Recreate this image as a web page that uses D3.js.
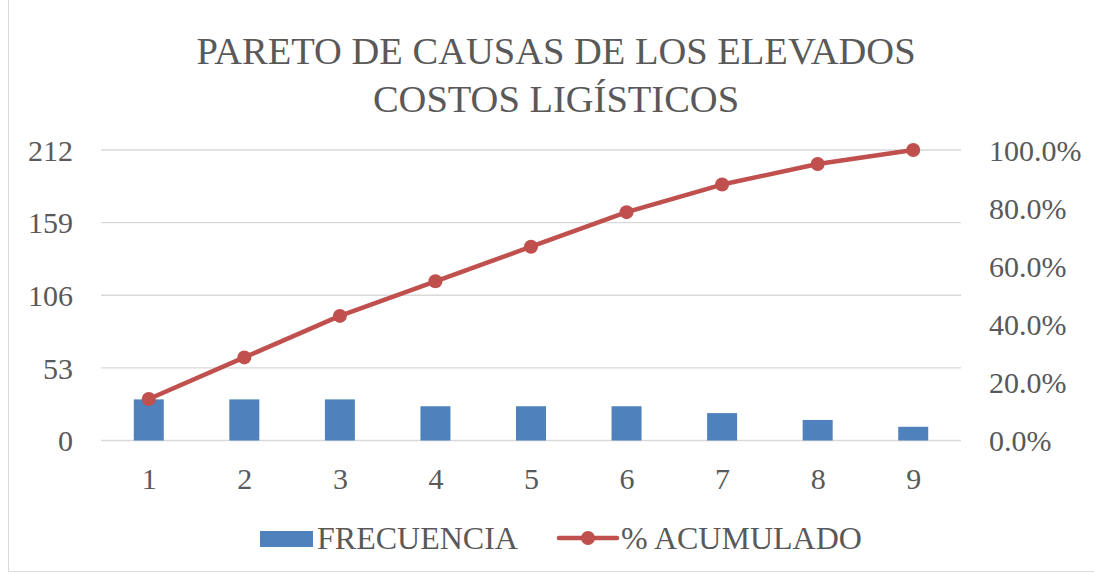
<!DOCTYPE html>
<html><head><meta charset="utf-8">
<script src="https://cdn.jsdelivr.net/npm/d3@7/dist/d3.min.js"></script>
<style>body{margin:0;background:#fff}svg{display:block}text{font-family:"Liberation Serif","Times New Roman",serif;fill:#595959}</style>
</head><body><svg id="c" width="1094" height="574"></svg>
<script>
const categories = ["1","2","3","4","5","6","7","8","9"];
const frecuencia = [30,30,30,25,25,25,20,15,10];
const acumulado = [14.3,28.6,42.9,54.8,66.7,78.6,88.1,95.2,100.0];
const leftTicks = [0,53,106,159,212];
const rightTicks = [0,20,40,60,80,100];
const titleLines = ["PARETO DE CAUSAS DE LOS ELEVADOS","COSTOS LIGÍSTICOS"];
const seriesNames = ["FRECUENCIA","% ACUMULADO"];

const svg = d3.select("#c");
const W=1094,H=574;
const m={l:101,r:1094-961,t:150,b:574-440.5};
svg.append("rect").attr("x",8.5).attr("y",-1).attr("width",W).attr("height",572.5).attr("fill","none").attr("stroke","#d9d9d9");

const x = d3.scaleBand().domain(categories).range([m.l,W-m.r]).paddingInner(0.686).paddingOuter(0.343);
const xc = d3.scalePoint().domain(categories).range([m.l,W-m.r]).padding(0.5);
const yL = d3.scaleLinear().domain([0,212]).range([H-m.b,m.t]);
const yR = d3.scaleLinear().domain([0,100]).range([H-m.b,m.t]);

// gridlines
svg.append("g").selectAll("line").data(leftTicks).join("line")
  .attr("x1",m.l).attr("x2",W-m.r).attr("y1",d=>yL(d)).attr("y2",d=>yL(d))
  .attr("stroke","#d9d9d9").attr("stroke-width",1.3);

function styleAxis(g){
  g.select(".domain").remove();
  g.selectAll("text").attr("font-size",30).attr("dy","0.34em").style("font-family","Liberation Serif").attr("fill","#595959");
}
// left axis
const axL = d3.axisLeft(yL).tickValues(leftTicks).tickSize(0).tickPadding(0);
svg.append("g").attr("transform",`translate(73,0)`).call(axL).call(styleAxis);

// right axis
const axR = d3.axisRight(yR).tickValues(rightTicks).tickSize(0).tickPadding(0).tickFormat(d=>d.toFixed(1)+"%");
svg.append("g").attr("transform",`translate(989,0)`).call(axR).call(styleAxis);

// x axis
const axX = d3.axisBottom(xc).tickSize(0).tickPadding(0);
svg.append("g").attr("transform",`translate(0,${H-m.b+38.5})`).call(axX).call(styleAxis);

// bars
svg.append("g").selectAll("rect").data(frecuencia).join("rect")
  .attr("x",(d,i)=>x(categories[i])).attr("width",x.bandwidth())
  .attr("y",d=>yL(d)).attr("height",d=>yL(0)-yL(d)).attr("fill","#4f81bd");

// line
const line = d3.line().x((d,i)=>xc(categories[i])).y(d=>yR(d));
svg.append("path").datum(acumulado).attr("d",line).attr("fill","none")
  .attr("stroke","#c0504d").attr("stroke-width",4.5).attr("stroke-linejoin","round");
svg.append("g").selectAll("circle").data(acumulado).join("circle")
  .attr("cx",(d,i)=>xc(categories[i])).attr("cy",d=>yR(d)).attr("r",7).attr("fill","#c0504d");

// title
svg.append("g").selectAll("text").data(titleLines).join("text")
  .attr("x",556).attr("y",(d,i)=>64+i*48).attr("text-anchor","middle")
  .attr("font-size",38.5).text(d=>d);

// legend
const lg = svg.append("g");
lg.append("rect").attr("x",260).attr("y",531).attr("width",53).attr("height",16).attr("fill","#4f81bd");
lg.append("text").attr("x",317).attr("y",549).attr("font-size",32).text(seriesNames[0]);
lg.append("line").attr("x1",559).attr("x2",617).attr("y1",538).attr("y2",538).attr("stroke","#c0504d").attr("stroke-width",4.5).attr("stroke-linecap","round");
lg.append("circle").attr("cx",588).attr("cy",538).attr("r",7).attr("fill","#c0504d");
lg.append("text").attr("x",621).attr("y",549).attr("font-size",32).text(seriesNames[1]);
</script></body></html>
